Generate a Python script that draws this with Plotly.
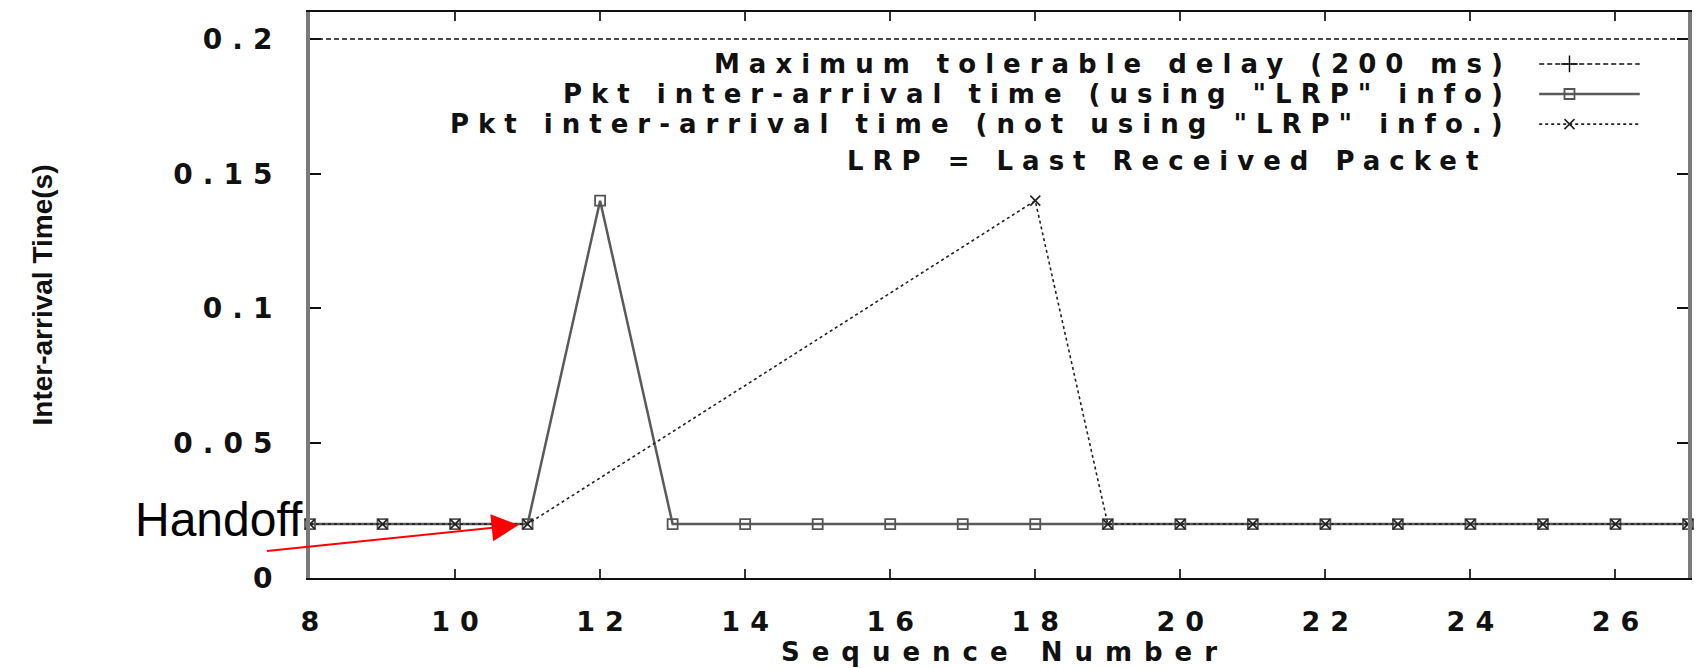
import plotly.graph_objects as go

# ---- data ----
seq = [8, 9, 10, 11, 12, 13, 14, 15, 16, 17, 18, 19, 20, 21, 22, 23, 24, 25, 26, 27]
lrp_time = [0.02, 0.02, 0.02, 0.02, 0.14, 0.02, 0.02, 0.02, 0.02, 0.02,
            0.02, 0.02, 0.02, 0.02, 0.02, 0.02, 0.02, 0.02, 0.02, 0.02]
nolrp_seq = [8, 9, 10, 11, 18, 19, 20, 21, 22, 23, 24, 25, 26, 27]
nolrp_time = [0.02, 0.02, 0.02, 0.02, 0.14, 0.02, 0.02, 0.02, 0.02, 0.02, 0.02, 0.02, 0.02, 0.02]
max_seq = [8, 27]
max_delay = [0.2, 0.2]

x_ticks = [8, 10, 12, 14, 16, 18, 20, 22, 24, 26]
y_ticks = [0, 0.05, 0.1, 0.15, 0.2]
y_ticktext = ["0", "0.05", "0.1", "0.15", "0.2"]

legend_names = [
    "Maximum tolerable delay (200 ms)",
    'Pkt inter-arrival time (using "LRP" info)',
    'Pkt inter-arrival time (not using "LRP" info.)',
]
legend_note = "LRP = Last Received Packet"
handoff_label = "Handoff"
x_title = "Sequence Number"
y_title = "Inter-arrival Time(s)"

FONT = "DejaVu Sans"
W, H = 1702, 668
L, R, T, B = 310, 10, 10, 75


def wide(text, px):
    # the original figure is stretched horizontally: widen the text with letter spacing
    text = str(text)
    if len(text) < 2:
        return text
    return f'<span style="letter-spacing:{px}px">{text[:-1]}</span>{text[-1]}'


fig = go.Figure()

# max tolerable delay
fig.add_trace(go.Scatter(x=max_seq, y=max_delay, mode="lines",
                         line=dict(color="#111", width=1.5, dash="5px,3px"),
                         showlegend=False, hoverinfo="skip"))
# using LRP
fig.add_trace(go.Scatter(x=seq, y=lrp_time, mode="lines+markers",
                         line=dict(color="#5a5a5a", width=2.5),
                         marker=dict(symbol="square-open", size=10, color="#555",
                                     line=dict(width=1.8, color="#555")),
                         showlegend=False, cliponaxis=False))
# not using LRP
fig.add_trace(go.Scatter(x=nolrp_seq, y=nolrp_time, mode="lines+markers",
                         line=dict(color="#222", width=1.6, dash="dot"),
                         marker=dict(symbol="x-thin", size=10, color="#222",
                                     line=dict(width=1.6, color="#222")),
                         showlegend=False, cliponaxis=False))

# ---- hand-made legend (text left of sample, as in the original) ----
row_y = [0.9082, 0.8551, 0.8019]
sx0, sx1, smk = 0.892, 0.965, 0.914
styles = [
    dict(line=dict(color="#111", width=1.5, dash="5px,3px"),
         marker=dict(symbol="cross-thin", size=12, color="#111", line=dict(width=1.5, color="#111"))),
    dict(line=dict(color="#5a5a5a", width=2.5),
         marker=dict(symbol="square-open", size=10, color="#555", line=dict(width=1.8, color="#555"))),
    dict(line=dict(color="#222", width=1.6, dash="dot"),
         marker=dict(symbol="x-thin", size=10, color="#222", line=dict(width=1.6, color="#222"))),
]
LS = 9
for yv, st, name in zip(row_y, styles, legend_names):
    fig.add_trace(go.Scatter(x=[sx0, sx1], y=[yv, yv], mode="lines", line=st["line"],
                             xaxis="x2", yaxis="y2", showlegend=False, hoverinfo="skip"))
    fig.add_trace(go.Scatter(x=[smk], y=[yv], mode="markers", marker=st["marker"],
                             xaxis="x2", yaxis="y2", showlegend=False, hoverinfo="skip"))
    fig.add_annotation(x=0.8669, y=yv, xref="paper", yref="paper",
                       text=wide(name, LS), showarrow=False, xanchor="right", yanchor="middle",
                       font=dict(family=FONT, size=26, color="#111", weight="bold"))
fig.add_annotation(x=0.8488, y=0.7376, xref="paper", yref="paper",
                   text=wide(legend_note, LS), showarrow=False, xanchor="right",
                   yanchor="middle", font=dict(family=FONT, size=26, color="#111", weight="bold"))

# ---- Handoff annotation ----
fig.add_annotation(x=11, y=0.02, xref="x", yref="y", ax=-262, ay=27,
                   axref="pixel", ayref="pixel", text="", showarrow=True,
                   arrowhead=2, arrowsize=2.7, arrowwidth=2, arrowcolor="#ff0000",
                   standoff=9)
fig.add_annotation(x=-0.0658, y=0.1029, xref="paper", yref="paper", text=handoff_label,
                   showarrow=False, xanchor="center", yanchor="middle",
                   font=dict(family="Liberation Sans, Arial", size=48, color="#000"))

fig.update_layout(
    width=W, height=H,
    margin=dict(l=L, r=R, t=T, b=B),
    paper_bgcolor="white", plot_bgcolor="white",
    xaxis=dict(range=[8, 27], tickvals=x_ticks, ticktext=[wide(v, 10) for v in x_ticks],
               ticks="inside", ticklen=9,
               tickcolor="#333", tickwidth=2, showline=True, mirror="ticks",
               linecolor="#111", linewidth=2, showgrid=False, zeroline=False,
               tickfont=dict(family=FONT, size=27, color="#111", weight="bold"),
               ticklabelstandoff=19,
               title=dict(text=wide(x_title, 12), standoff=2,
                          font=dict(family=FONT, size=26, color="#111", weight="bold"))),
    yaxis=dict(range=[0, 0.21], tickvals=y_ticks, ticktext=[wide(t, 10) for t in y_ticktext],
               ticks="inside",
               ticklen=11, tickcolor="#111", tickwidth=2, showline=True, mirror="ticks",
               linecolor="#7a7a7a", linewidth=4, showgrid=False, zeroline=False,
               tickfont=dict(family=FONT, size=28, color="#111", weight="bold"),
               ticklabelstandoff=28,
               title=dict(text=y_title, standoff=114,
                          font=dict(family="Liberation Sans, Arial", size=28, color="#111",
                                    weight="bold"))),
    xaxis2=dict(overlaying="x", range=[0, 1], visible=False),
    yaxis2=dict(overlaying="y", range=[0, 1], visible=False),
)

fig.write_html("out.html")
